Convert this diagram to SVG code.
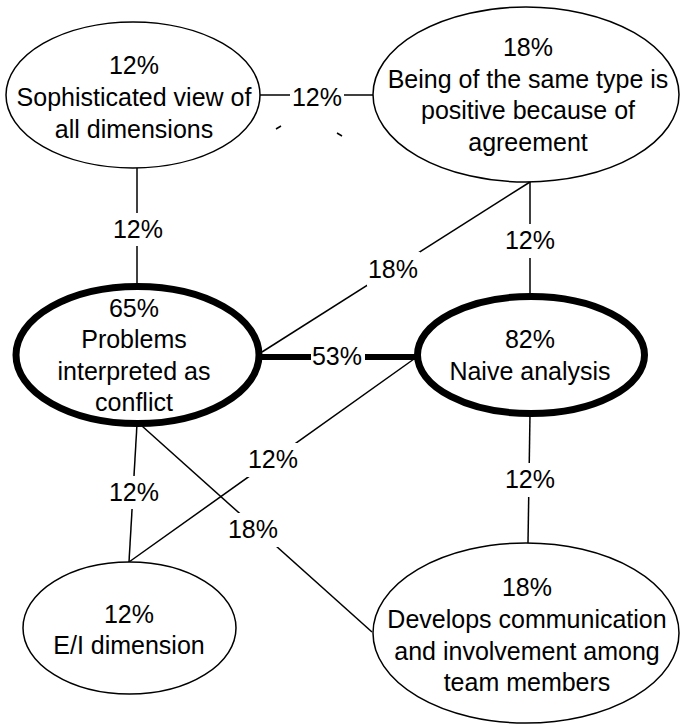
<svg xmlns="http://www.w3.org/2000/svg" width="680" height="725" viewBox="0 0 680 725">
  <style>
    text { font-family: "Liberation Sans", Arial, sans-serif; font-size: 25px; fill: #000; text-anchor: middle; }
    .node { fill: #fff; stroke: #000; stroke-width: 1.5; }
    .node.major { stroke-width: 7; }
    .edge { stroke: #000; stroke-width: 1.5; fill: none; }
    .edge.major { stroke-width: 6; }
    .lbl-bg { fill: #fff; stroke: none; }
  </style>
  <rect width="680" height="725" fill="#fff"/>

  <!-- connectors -->
  <g id="connectors">
    <line class="edge" x1="260" y1="95" x2="373" y2="95"/>
    <line class="edge" x1="137" y1="168" x2="137" y2="286"/>
    <line class="edge" x1="530" y1="182" x2="530" y2="296"/>
    <line class="edge" x1="530" y1="182" x2="262" y2="352"/>
    <line class="edge major" x1="259" y1="357" x2="417" y2="357"/>
    <line class="edge" x1="530" y1="414" x2="528" y2="543"/>
    <line class="edge" x1="137" y1="424" x2="129" y2="562"/>
    <line class="edge" x1="142" y1="426" x2="372" y2="632"/>
    <line class="edge" x1="129" y1="562" x2="414" y2="359"/>
    <!-- stray ticks below the top link -->
    <line class="edge" x1="276" y1="129" x2="281" y2="126"/>
    <line class="edge" x1="337" y1="133" x2="342" y2="136"/>

    <!-- link weights -->
    <rect class="lbl-bg" x="290" y="80" width="54" height="32"/>
    <text x="317" y="106">12%</text>
    <rect class="lbl-bg" x="110" y="213" width="54" height="33"/>
    <text x="138" y="238">12%</text>
    <rect class="lbl-bg" x="503" y="224" width="54" height="34"/>
    <text x="530" y="249">12%</text>
    <rect class="lbl-bg" x="367" y="252" width="53" height="34"/>
    <text x="393" y="278">18%</text>
    <rect class="lbl-bg" x="311" y="340" width="54" height="34"/>
    <text x="337" y="365">53%</text>
    <rect class="lbl-bg" x="247" y="443" width="52" height="34"/>
    <text x="273" y="468">12%</text>
    <rect class="lbl-bg" x="107" y="476" width="54" height="33"/>
    <text x="134" y="501">12%</text>
    <rect class="lbl-bg" x="228" y="513" width="52" height="34"/>
    <text x="253" y="538">18%</text>
    <rect class="lbl-bg" x="503" y="463" width="54" height="34"/>
    <text x="530" y="488">12%</text>
  </g>

  <g id="node-sophisticated">
    <ellipse class="node" cx="133" cy="95" rx="127" ry="73"/>
    <text x="134" y="74">12%</text>
    <text x="134" y="106">Sophisticated view of</text>
    <text x="134" y="138">all dimensions</text>
  </g>

  <g id="node-same-type">
    <ellipse class="node" cx="526" cy="94.5" rx="153" ry="87.5"/>
    <text x="528" y="56">18%</text>
    <text x="528" y="87.5">Being of the same type is</text>
    <text x="528" y="119">positive because of</text>
    <text x="528" y="150.5">agreement</text>
  </g>

  <g id="node-conflict">
    <ellipse class="node major" cx="137.5" cy="355" rx="121.5" ry="68.5"/>
    <text x="134" y="316.5">65%</text>
    <text x="134" y="348">Problems</text>
    <text x="134" y="379.5">interpreted as</text>
    <text x="134" y="411">conflict</text>
  </g>

  <g id="node-naive">
    <ellipse class="node major" cx="531" cy="355" rx="113.5" ry="58.5"/>
    <text x="530" y="348">82%</text>
    <text x="530" y="380">Naive analysis</text>
  </g>

  <g id="node-ei">
    <ellipse class="node" cx="129.5" cy="628" rx="106.5" ry="66"/>
    <text x="129" y="622.5">12%</text>
    <text x="129" y="654">E/I dimension</text>
  </g>

  <g id="node-communication">
    <ellipse class="node" cx="526" cy="633" rx="153" ry="90"/>
    <text x="527" y="596">18%</text>
    <text x="527" y="628">Develops communication</text>
    <text x="527" y="659.5">and involvement among</text>
    <text x="527" y="690.5">team members</text>
  </g>
</svg>
